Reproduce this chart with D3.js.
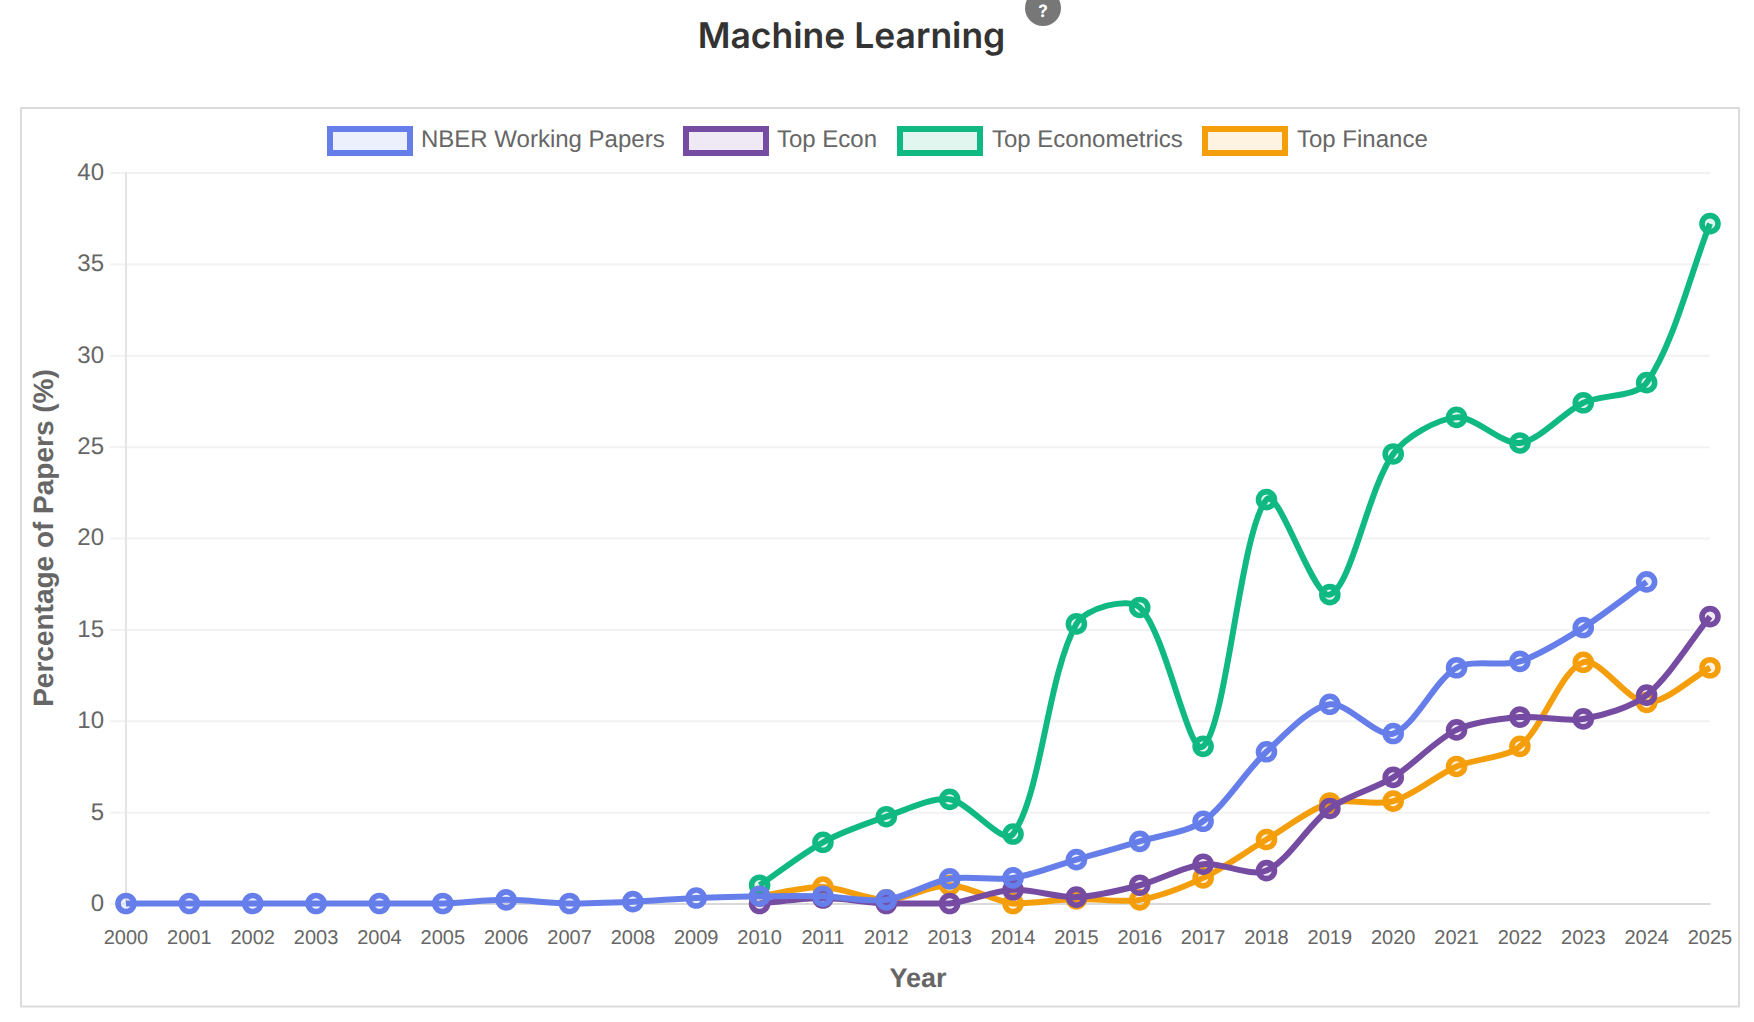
<!DOCTYPE html>
<html><head><meta charset="utf-8">
<style>html,body{margin:0;padding:0;background:#fff}svg{display:block;text-rendering:geometricPrecision}</style>
<script src="https://cdn.jsdelivr.net/npm/d3@7"></script>
</head><body><svg id="c" width="1754" height="1022"></svg>
<script>
const years = d3.range(2000, 2026);
const tickValuesY = [0,5,10,15,20,25,30,35,40];
const seriesNames = ["NBER Working Papers","Top Econ","Top Econometrics","Top Finance"];
const seriesColors = ["#667eea","#764ba2","#10b981","#f59e0b"];
const nberValues = [0,0,0,0,0,0,0.2,0,0.1,0.3,0.4,0.4,0.2,1.35,1.4,2.4,3.4,4.5,8.3,10.9,9.3,12.9,13.25,15.1,17.6,null];
const econValues = [null,null,null,null,null,null,null,null,null,null,0,0.3,0,0,0.75,0.35,1,2.15,1.8,5.2,6.9,9.5,10.2,10.1,11.4,15.7];
const metricsValues = [null,null,null,null,null,null,null,null,null,null,1.0,3.35,4.75,5.7,3.8,15.3,16.2,8.6,22.1,16.9,24.6,26.6,25.2,27.4,28.5,37.2];
const financeValues = [null,null,null,null,null,null,null,null,null,null,0.4,0.9,0.2,1.0,0,0.25,0.2,1.4,3.5,5.5,5.6,7.5,8.6,13.2,11,12.9];
const allValues = [nberValues,econValues,metricsValues,financeValues];

const svg = d3.select("#c");
const L=126,R=1710,T=172.5,B=903.5;
const x = d3.scaleLinear().domain([2000,2025]).range([L,R]);
const y = d3.scaleLinear().domain([0,40]).range([B,T]);
const sans = "'Liberation Sans',Arial,sans-serif";

// frame
svg.append("rect").attr("x",21).attr("y",108).attr("width",1718).attr("height",898.5)
  .attr("fill","#fff").attr("stroke","#dcdcdc").attr("stroke-width",2);

// title + help
svg.append("text").attr("x",851.5).attr("y",47.5).attr("text-anchor","middle")
  .attr("font-family","Inter,sans-serif").attr("font-weight",600).attr("font-size",35.5)
  .attr("fill","#333").text("Machine Learning");
svg.append("circle").attr("cx",1043).attr("cy",8).attr("r",18).attr("fill","#777");
svg.append("text").attr("x",1043).attr("y",17).attr("text-anchor","middle")
  .attr("font-family","Inter,sans-serif").attr("font-weight",700).attr("font-size",17)
  .attr("fill","#fff").text("?");

// grid
const gy = svg.append("g").attr("transform",`translate(${L},0)`)
  .call(d3.axisLeft(y).tickValues(tickValuesY).tickSize(-(R-L)).tickSizeOuter(0).tickPadding(20));
gy.select(".domain").remove();
gy.selectAll("line").attr("stroke","#f2f2f2").attr("stroke-width",2);
gy.selectAll(".tick").each(function(){
  d3.select(this).append("line").attr("x1",-16).attr("x2",0).attr("stroke","#f2f2f2").attr("stroke-width",2);
});
gy.selectAll("text").attr("font-family",sans).attr("font-size",24).attr("fill","#666").attr("x",-22).attr("dy","0.29em");
svg.append("line").attr("x1",L).attr("x2",L).attr("y1",T).attr("y2",B).attr("stroke","#e4e4e4").attr("stroke-width",2);

const gx = svg.append("g").attr("transform",`translate(0,${B})`)
  .call(d3.axisBottom(x).tickValues(years).tickFormat(d3.format("d")).tickSize(0).tickPadding(26));
gx.select(".domain").attr("stroke","#d9d9d9").attr("stroke-width",2);
gx.selectAll("text").attr("font-family",sans).attr("font-size",20).attr("fill","#666").attr("dx",-0.5);

// axis titles
svg.append("text").attr("x",918).attr("y",987).attr("text-anchor","middle")
  .attr("font-family",sans).attr("font-weight",700).attr("font-size",27).attr("fill","#666").text("Year");
svg.append("text").attr("transform","translate(53,538) rotate(-90)").attr("text-anchor","middle")
  .attr("font-family",sans).attr("font-weight",700).attr("font-size",28).attr("fill","#666").text("Percentage of Papers (%)");

// spline in the manner of a 0.3-tension cubic interpolation, capped to the plot area
function splineCurve(context){
  let pts=[];
  return {
    lineStart(){pts=[];},
    lineEnd(){
      const t=0.3, n=pts.length, cp=[];
      const clampX=v=>Math.max(L,Math.min(R,v)), clampY=v=>Math.max(T,Math.min(B,v));
      for(let i=0;i<n;i++){
        const p0=pts[Math.max(i-1,0)],p1=pts[i],p2=pts[Math.min(i+1,n-1)];
        const d01=Math.hypot(p1[0]-p0[0],p1[1]-p0[1]),d12=Math.hypot(p2[0]-p1[0],p2[1]-p1[1]);
        const den=(d01+d12)||1;
        const fa=t*d01/den,fb=t*d12/den;
        cp.push({
          px:clampX(p1[0]-fa*(p2[0]-p0[0])),py:clampY(p1[1]-fa*(p2[1]-p0[1])),
          nx:clampX(p1[0]+fb*(p2[0]-p0[0])),ny:clampY(p1[1]+fb*(p2[1]-p0[1]))
        });
      }
      pts.forEach((p,i)=>{
        if(i===0) context.moveTo(p[0],p[1]);
        else context.bezierCurveTo(cp[i-1].nx,cp[i-1].ny,cp[i].px,cp[i].py,p[0],p[1]);
      });
    },
    areaStart(){},areaEnd(){},
    point(a,b){pts.push([+a,+b]);}
  };
}
const line = d3.line().defined(d=>d.v!==null).x(d=>x(d.y)).y(d=>y(d.v)).curve(splineCurve);

// first series on top
d3.range(allValues.length-1,-1,-1).forEach(i=>{
  const data = years.map((yr,k)=>({y:yr,v:allValues[i][k]}));
  const g = svg.append("g");
  g.append("path").attr("d",line(data)).attr("fill","none").attr("stroke",seriesColors[i])
    .attr("stroke-width",6).attr("stroke-linecap","butt");
  g.selectAll("circle").data(data.filter(d=>d.v!==null)).join("circle")
    .attr("cx",d=>x(d.y)).attr("cy",d=>y(d.v)).attr("r",8)
    .attr("fill",d3.color(seriesColors[i]).copy({opacity:0.12}))
    .attr("stroke",seriesColors[i]).attr("stroke-width",5.6);
});

// legend
const legendBoxX=[330,686,900,1205], legendTextX=[421,777,992,1297];
const lg = svg.append("g");
seriesNames.forEach((name,i)=>{
  lg.append("rect").attr("x",legendBoxX[i]).attr("y",129).attr("width",80).attr("height",24)
    .attr("fill",d3.color(seriesColors[i]).copy({opacity:0.12}))
    .attr("stroke",seriesColors[i]).attr("stroke-width",6);
  lg.append("text").attr("x",legendTextX[i]).attr("y",147)
    .attr("font-family",sans).attr("font-size",24).attr("fill","#666").text(name);
});
</script></body></html>
